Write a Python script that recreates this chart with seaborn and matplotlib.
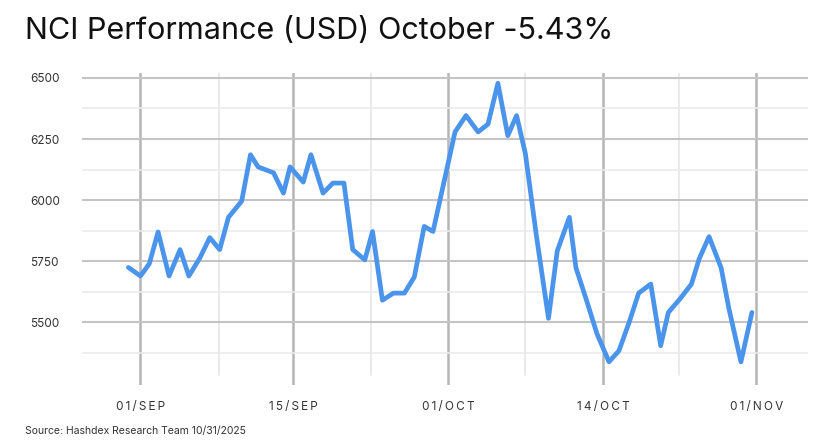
import matplotlib
matplotlib.use("Agg")
import matplotlib.pyplot as plt
import seaborn as sns
import pandas as pd

# positions (in day-like chart units) and values
positions = [0.0, 1.1, 1.9, 2.7, 3.7, 4.7, 5.5, 6.5, 7.4, 8.3, 9.1, 10.3,
             11.1, 11.8, 13.2, 14.1, 14.7, 15.9, 16.6, 17.7, 18.6, 19.6, 20.4, 21.5,
             22.2, 23.1, 24.1, 25.1, 26.0, 26.9, 27.7, 28.8, 29.7, 30.7, 31.8, 32.7,
             33.6, 34.5, 35.3, 36.1, 37.1, 38.2, 39.0, 40.1, 40.7, 41.6, 42.6, 43.7,
             44.6, 45.5, 46.4, 47.5, 48.4, 49.1, 50.2, 51.2, 51.9, 52.8, 53.9, 54.6,
             55.7, 56.7]
values = [5725, 5690, 5740, 5870, 5690, 5798, 5690, 5764, 5847, 5798, 5930, 5996,
          6186, 6136, 6112, 6029, 6136, 6074, 6186, 6029, 6070, 6070, 5798, 5756,
          5872, 5591, 5620, 5620, 5686, 5893, 5872, 6095, 6279, 6346, 6279, 6311,
          6478, 6264, 6346, 6190, 5855, 5517, 5793, 5930, 5723, 5599, 5455, 5339,
          5384, 5496, 5620, 5657, 5405, 5541, 5599, 5657, 5760, 5851, 5723, 5558,
          5339, 5541]
tick_pos = [1.1, 15.0, 29.1, 43.2, 57.1]
minor_pos = [8.2, 22.1, 36.1, 50.1]
tick_labels = ["01/SEP", "15/SEP", "01/OCT", "14/OCT", "01/NOV"]
y_ticks = [5500, 5750, 6000, 6250, 6500]
y_minor = [5375, 5625, 5875, 6125, 6375]

df = pd.DataFrame({"x": positions, "v": values})

sns.set_theme(style="white")
plt.rcParams['font.family'] = ['Inter', 'DejaVu Sans']
fig = plt.figure(figsize=(8.22, 4.48), dpi=100)
ax = fig.add_axes([0.1, 0.141, 0.883, 0.696])

for t in tick_pos:
    ax.axvline(t, color="#b5b5b5", lw=1.8, zorder=1)
for t in minor_pos:
    ax.axvline(t, color="#e6e6e6", lw=1.2, ymin=0.03, zorder=1)
for t in y_ticks:
    ax.axhline(t, color="#c4c4c4", lw=1.5, zorder=1)
for t in y_minor:
    ax.axhline(t, color="#ebebeb", lw=1.2, zorder=1)

sns.lineplot(data=df, x="x", y="v", ax=ax, color="#4A94EC", lw=3.4, zorder=3,
             sort=False)
ax.set_xlim(-4.2, 61.8)
ax.set_ylim(5245, 6520)
ax.set_xticks(tick_pos)
ax.set_xticklabels(["\u2009".join(l) for l in tick_labels])
ax.set_yticks(y_ticks)
ax.set_yticklabels([str(t) for t in y_ticks])
ax.tick_params(axis="both", labelsize=8.5, colors="#333333", length=0)
ax.tick_params(axis="x", pad=12)
for lab in ax.get_yticklabels():
    lab.set_horizontalalignment("left")
    lab.set_x(-0.065)
ax.set_xlabel("")
ax.set_ylabel("")
for s in ax.spines.values():
    s.set_visible(False)

fig.text(0.03, 0.93, "NCI Performance (USD) October -5.43%", fontsize=22, color="#111111", va="center")
fig.text(0.03, 0.038, "Source: Hashdex Research Team 10/31/2025", fontsize=7.5, color="#333333", va="center")
fig.savefig("out.png", dpi=100)
